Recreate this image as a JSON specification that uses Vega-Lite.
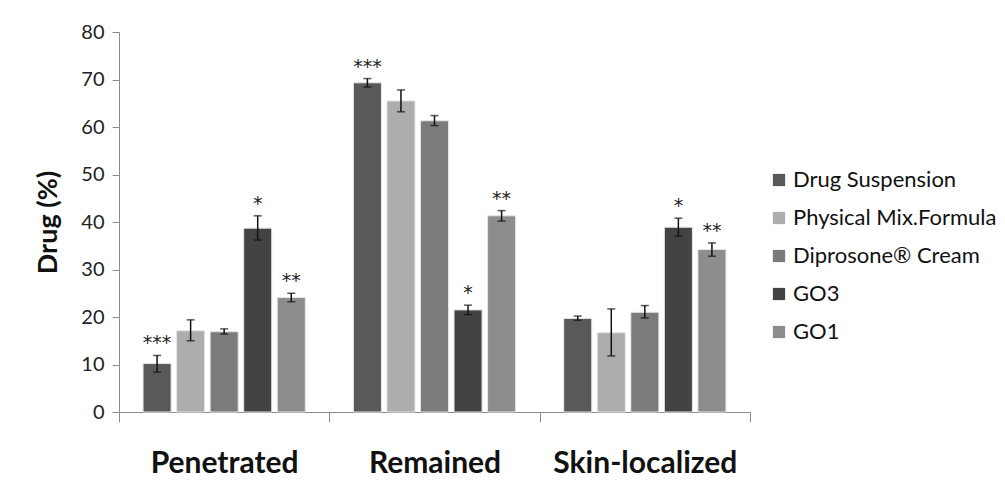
{
  "$schema": "https://vega.github.io/schema/vega-lite/v6.json",
  "width": 631,
  "height": 380,
  "autosize": {"type": "none"},
  "padding": {"left": 119, "top": 32, "right": 255, "bottom": 82},
  "background": "white",
  "config": {"view": {"stroke": null}, "font": "Lato"},
  "data": {
    "values": [
      {"category": "Penetrated", "series": "Drug Suspension", "value": 10.2, "lo": 8.4, "hi": 11.9, "sig": "***"},
      {"category": "Penetrated", "series": "Physical Mix.Formula", "value": 17.1, "lo": 15.0, "hi": 19.4, "sig": ""},
      {"category": "Penetrated", "series": "Diprosone® Cream", "value": 16.9, "lo": 16.4, "hi": 17.5, "sig": ""},
      {"category": "Penetrated", "series": "GO3", "value": 38.7, "lo": 36.2, "hi": 41.3, "sig": "*"},
      {"category": "Penetrated", "series": "GO1", "value": 24.1, "lo": 23.2, "hi": 25.0, "sig": "**"},
      {"category": "Remained", "series": "Drug Suspension", "value": 69.3, "lo": 68.4, "hi": 70.2, "sig": "***"},
      {"category": "Remained", "series": "Physical Mix.Formula", "value": 65.5, "lo": 63.2, "hi": 67.8, "sig": ""},
      {"category": "Remained", "series": "Diprosone® Cream", "value": 61.3, "lo": 60.3, "hi": 62.4, "sig": ""},
      {"category": "Remained", "series": "GO3", "value": 21.5, "lo": 20.5, "hi": 22.5, "sig": "*"},
      {"category": "Remained", "series": "GO1", "value": 41.3, "lo": 40.2, "hi": 42.4, "sig": "**"},
      {"category": "Skin-localized", "series": "Drug Suspension", "value": 19.7, "lo": 19.3, "hi": 20.2, "sig": ""},
      {"category": "Skin-localized", "series": "Physical Mix.Formula", "value": 16.7, "lo": 11.8, "hi": 21.7, "sig": ""},
      {"category": "Skin-localized", "series": "Diprosone® Cream", "value": 21.0, "lo": 19.8, "hi": 22.4, "sig": ""},
      {"category": "Skin-localized", "series": "GO3", "value": 38.9, "lo": 37.0, "hi": 40.8, "sig": "*"},
      {"category": "Skin-localized", "series": "GO1", "value": 34.2, "lo": 32.8, "hi": 35.6, "sig": "**"}
    ]
  },
  "encoding": {
    "x": {
      "field": "category",
      "type": "nominal",
      "sort": ["Penetrated", "Remained", "Skin-localized"],
      "scale": {"paddingInner": 0, "paddingOuter": 0},
      "axis": {
        "title": null,
        "labelAngle": 0,
        "labelFontSize": 30,
        "labelFontWeight": "bold",
        "labelColor": "#111111",
        "labelLimit": 300,
        "tickBand": "extent",
        "tickSize": 10,
        "domainColor": "#8a8a8a",
        "tickColor": "#8a8a8a",
        "labelPadding": 26
      }
    },
    "xOffset": {
      "field": "series",
      "type": "nominal",
      "sort": ["Drug Suspension", "Physical Mix.Formula", "Diprosone® Cream", "GO3", "GO1"],
      "scale": {"paddingInner": 0.164, "paddingOuter": 0.717}
    }
  },
  "layer": [
    {
      "mark": {"type": "bar", "stroke": "#e6e6e6", "strokeWidth": 1},
      "encoding": {
        "y": {
          "field": "value",
          "type": "quantitative",
          "scale": {"domain": [0, 80]},
          "axis": {
            "title": "Drug (%)",
            "titleFontSize": 27,
            "titleFontWeight": "bold",
            "titleColor": "#111111",
            "titlePadding": 18,
            "labelFontSize": 20,
            "labelColor": "#222222",
            "labelPadding": 8,
            "values": [0, 10, 20, 30, 40, 50, 60, 70, 80],
            "grid": false,
            "domainColor": "#8a8a8a",
            "tickColor": "#8a8a8a",
            "tickSize": 7
          }
        },
        "color": {
          "field": "series",
          "type": "nominal",
          "scale": {
            "domain": ["Drug Suspension", "Physical Mix.Formula", "Diprosone® Cream", "GO3", "GO1"],
            "range": ["#595959", "#adadad", "#7b7b7b", "#434343", "#8d8d8d"]
          },
          "legend": {
            "orient": "none",
            "legendX": 649,
            "legendY": 137,
            "padding": 0,
            "title": null,
            "labelFontSize": 22,
            "labelColor": "#111111",
            "labelOffset": 3,
            "labelLimit": 400,
            "symbolType": "square",
            "symbolSize": 150,
            "symbolStrokeWidth": 0,
            "rowPadding": 16
          }
        }
      }
    },
    {
      "mark": {"type": "rule", "color": "#111111", "strokeWidth": 1.5},
      "encoding": {
        "y": {"field": "lo", "type": "quantitative"},
        "y2": {"field": "hi"}
      }
    },
    {
      "mark": {"type": "tick", "color": "#111111", "thickness": 1.5, "size": 8},
      "encoding": {"y": {"field": "lo", "type": "quantitative"}}
    },
    {
      "mark": {"type": "tick", "color": "#111111", "thickness": 1.5, "size": 8},
      "encoding": {"y": {"field": "hi", "type": "quantitative"}}
    },
    {
      "mark": {"type": "text", "font": "DejaVu Sans", "fontSize": 19, "dy": -12, "fill": "#222222", "baseline": "middle"},
      "encoding": {
        "y": {"field": "hi", "type": "quantitative"},
        "text": {"field": "sig"}
      }
    }
  ]
}
